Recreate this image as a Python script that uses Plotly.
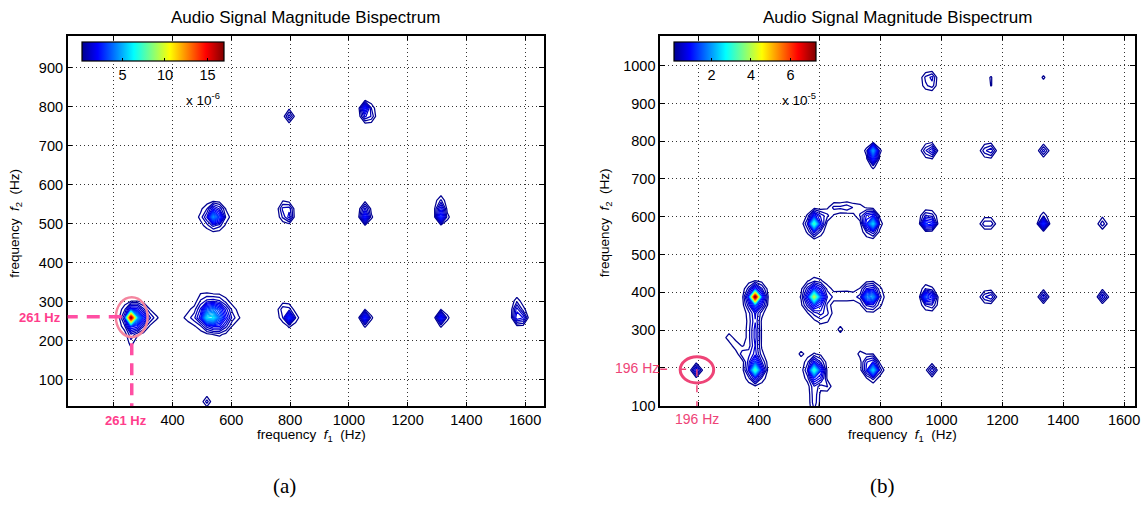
import numpy as np
import plotly.graph_objects as go

W, H = 1147, 506

# ---------------- data ----------------
# frequency grid of the bispectrum estimate (Hz)
bin_hz = 21.533
f_grid = np.arange(0, 1720, bin_hz)

# Panel (a): peaks of |B(f1,f2)| (amplitude in 1e-6), widths in Hz, orientation in deg
a_f1 = [260, 272, 305, 262,
        525, 545, 535, 505, 565, 530,
        800, 780, 1056, 1315, 1582, 1575,
        545, 540, 790, 780, 1056, 1056, 1315, 1310,
        798, 1058, 1068, 515]
a_f2 = [259, 258, 260, 212,
        262, 268, 262, 300, 235, 262,
        258, 275, 258, 258, 259, 285,
        520, 518, 525, 545, 518, 540, 520, 545,
        778, 792, 775, 45]
a_amp = [13.5, 3.8, 1.0, 0.7,
         3.6, 2.8, 1.2, 0.7, 0.6, 0.5,
         2.8, 1.0, 2.6, 2.6, 2.8, 1.4,
         3.6, 1.4, 2.4, 0.9, 2.5, 1.0, 2.8, 1.5,
         1.3, 2.8, 1.0, 0.9]
a_s1 = [8, 22, 30, 8,
        12, 26, 50, 10, 15, 60,
        11, 14, 11, 11, 11, 10,
        13, 30, 11, 12, 11, 10, 11, 10,
        10, 11, 12, 8]
a_s2 = [8, 20, 12, 26,
        12, 24, 20, 22, 12, 10,
        11, 14, 11, 11, 11, 13,
        13, 18, 11, 10, 11, 10, 11, 13,
        10, 11, 10, 8]
a_ang = [0] * len(a_f1)

# Panel (b): peaks (amplitude in 1e-5)
b_f1 = [196, 390, 388, 385, 325, 346,
        585, 585, 585, 615, 541,
        778, 765, 735, 967,
        388, 390, 583, 585, 610, 680, 765, 768, 955, 962, 1155, 1335, 1532, 667,
        583, 583, 770, 770, 615, 650, 690, 730, 755, 958, 955, 1152, 1335, 1530,
        775, 775, 962, 1155, 1337,
        960, 1160, 1335]
b_f2 = [193, 193, 200, 290, 262, 239,
        193, 195, 120, 160, 238,
        193, 205, 238, 193,
        388, 385, 388, 388, 340, 395, 390, 388, 392, 378, 388, 390, 390, 300,
        585, 580, 585, 580, 600, 620, 625, 615, 600, 585, 590, 585, 585, 585,
        772, 760, 775, 775, 775,
        960, 962, 970]
b_amp = [0.8, 2.2, 1.0, 0.7, 0.35, 0.25,
         2.2, 1.0, 0.45, 0.35, 0.25,
         2.0, 0.9, 0.25, 0.6,
         5.5, 1.7, 2.5, 1.6, 0.4, 0.45, 1.8, 1.0, 1.6, 0.7, 0.7, 0.65, 0.7, 0.25,
         2.3, 1.1, 1.8, 1.0, 0.4, 0.4, 0.4, 0.4, 0.4, 1.6, 0.6, 0.6, 1.3, 0.45,
         1.6, 0.9, 0.9, 0.7, 0.55,
         1.0, 0.2, 0.2]
b_s1 = [10, 10, 18, 13, 45, 5,
        10, 18, 10, 25, 5,
        10, 15, 5, 10,
        8, 18, 9, 22, 20, 45, 10, 20, 10, 14, 14, 10, 10, 5,
        10, 15, 10, 15, 16, 16, 16, 16, 16, 10, 14, 14, 10, 10,
        10, 10, 12, 13, 10,
        10, 30, 4]
b_s2 = [10, 10, 22, 55, 7, 5,
        10, 22, 40, 8, 5,
        10, 18, 5, 10,
        8, 20, 9, 22, 15, 8, 10, 20, 10, 14, 10, 10, 10, 5,
        10, 18, 10, 18, 9, 9, 9, 9, 9, 10, 12, 9, 10, 10,
        10, 16, 12, 12, 10,
        12, 10, 4]
b_ang = [0, 0, 0, 0, -40, 0,
         0, 0, 0, -45, 0,
         0, 0, 0, 0,
         0, 0, 0, 0, 0, 0, 0, 0, 0, 0, 0, 0, 0, 0,
         0, 0, 0, 0, 0, 0, 0, 0, 0, 0, 0, 0, 0, 0,
         0, 0, 0, 0, 0,
         0, -60, 0]

# marked fundamentals
note_a = 261
note_b = 196

# tick values
a_xticks = [200, 400, 600, 800, 1000, 1200, 1400, 1600]
a_xtext = ["", "400", "600", "800", "1000", "1200", "1400", "1600"]
a_yticks = [100, 200, 300, 400, 500, 600, 700, 800, 900]
b_xticks = [200, 400, 600, 800, 1000, 1200, 1400, 1600]
b_xtext = ["", "400", "600", "800", "1000", "1200", "1400", "1600"]
b_yticks = [100, 200, 300, 400, 500, 600, 700, 800, 900, 1000]
b_ytext = ["100", "", "300", "400", "500", "600", "700", "800", "900", "1000"]
a_cticks = [5, 10, 15]
b_cticks = [2, 4, 6]


# ---------------- build fields ----------------
def field(f1s, f2s, amps, s1s, s2s, angs):
    X, Y = np.meshgrid(f_grid, f_grid)
    Z = np.zeros_like(X)
    for f1, f2, A, s1, s2, ang in zip(f1s, f2s, amps, s1s, s2s, angs):
        th = np.deg2rad(ang)
        dx, dy = X - f1, Y - f2
        u = dx * np.cos(th) + dy * np.sin(th)
        v = -dx * np.sin(th) + dy * np.cos(th)
        Z += A * np.exp(-0.5 * ((u / s1) ** 2 + (v / s2) ** 2))
    return Z


Za = field(a_f1, a_f2, a_amp, a_s1, a_s2, a_ang)
Zb = field(b_f1, b_f2, b_amp, b_s1, b_s2, b_ang)

jet = [[0.0, "rgb(0,0,143)"], [0.111, "rgb(0,0,255)"], [0.365, "rgb(0,255,255)"],
       [0.619, "rgb(255,255,0)"], [0.873, "rgb(255,0,0)"], [1.0, "rgb(128,0,0)"]]

FONT = "Liberation Sans, Arial, sans-serif"

a_crange = (0.2, 16.9)
b_crange = (0.1, 7.3)

fig = go.Figure()
fig.add_trace(go.Contour(
    x=f_grid, y=f_grid, z=Za, xaxis="x", yaxis="y",
    contours=dict(coloring="lines", start=0.35, end=17, size=0.33),
    line=dict(width=1.25, smoothing=0), colorscale=jet,
    zmin=a_crange[0], zmax=a_crange[1], showscale=False, hoverinfo="skip"))
fig.add_trace(go.Contour(
    x=f_grid, y=f_grid, z=Zb, xaxis="x2", yaxis="y2",
    contours=dict(coloring="lines", start=0.15, end=7.2, size=0.15),
    line=dict(width=1.25, smoothing=0), colorscale=jet,
    zmin=b_crange[0], zmax=b_crange[1], showscale=False, hoverinfo="skip"))


def cbar(x0px, tickvals):
    return dict(orientation="h", x=x0px / W, xanchor="left", xref="paper",
                y=1 - 43 / H, yanchor="top", yref="paper",
                len=142, lenmode="pixels", thickness=19, thicknessmode="pixels",
                xpad=0, ypad=0, outlinewidth=1.2, outlinecolor="black",
                tickvals=tickvals, ticks="inside", ticklen=3, tickcolor="black",
                tickfont=dict(family=FONT, size=14.5, color="black"))


fig.add_trace(go.Scatter(
    x=[800], y=[600], xaxis="x", yaxis="y", mode="markers", hoverinfo="skip",
    showlegend=False,
    marker=dict(size=1, opacity=0, color=[5], colorscale=jet, cmin=a_crange[0],
                cmax=a_crange[1], showscale=True, colorbar=cbar(82, a_cticks))))
fig.add_trace(go.Scatter(
    x=[800], y=[600], xaxis="x2", yaxis="y2", mode="markers", hoverinfo="skip",
    showlegend=False,
    marker=dict(size=1, opacity=0, color=[2], colorscale=jet, cmin=b_crange[0],
                cmax=b_crange[1], showscale=True, colorbar=cbar(677, b_cticks))))

axis_style = dict(showline=True, linecolor="black", linewidth=1.5, mirror="allticks",
                  ticks="inside", ticklen=5, tickcolor="black", tickwidth=1,
                  showgrid=True, gridcolor="#333333", griddash="1px,3px", gridwidth=1,
                  zeroline=False, tickfont=dict(family=FONT, size=14.5, color="black"))

top, bot = 36, 412
fig.update_layout(
    width=W, height=H, margin=dict(l=0, r=0, t=0, b=0),
    paper_bgcolor="white", plot_bgcolor="white", showlegend=False,
    xaxis=dict(domain=[68 / W, 546 / W], range=[43, 1663], tickvals=a_xticks,
               ticktext=a_xtext, anchor="y", **axis_style),
    yaxis=dict(domain=[1 - bot / H, 1 - top / H], range=[31, 983], tickvals=a_yticks,
               anchor="x", **axis_style),
    xaxis2=dict(domain=[663 / W, 1140 / W], range=[75, 1636], tickvals=b_xticks,
                ticktext=b_xtext, anchor="y2", **axis_style),
    yaxis2=dict(domain=[1 - bot / H, 1 - top / H], range=[98, 1080], tickvals=b_yticks,
                ticktext=b_ytext, anchor="x2", **axis_style),
)

PINK_A = "#FF3D8B"
PINK_A_LINE = "#FF4FA3"
PINK_A_CIRC = "#F4869F"
PINK_B = "#EE4477"

shapes = [
    # panel a markers
    dict(type="circle", xref="x", yref="y", x0=note_a - 54, x1=note_a + 54,
         y0=note_a - 52, y1=note_a + 50, line=dict(color=PINK_A_CIRC, width=2.5)),
    dict(type="line", xref="x", yref="y", x0=33, x1=note_a - 28, y0=note_a, y1=note_a,
         line=dict(color=PINK_A_LINE, width=3.5, dash="13px,9px")),
    dict(type="line", xref="x", yref="y", x0=note_a, x1=note_a, y0=note_a - 68, y1=31,
         line=dict(color=PINK_A_LINE, width=3.5, dash="12px,8px")),
    # panel b markers
    dict(type="circle", xref="x2", yref="y2", x0=note_b - 55, x1=note_b + 55,
         y0=note_b - 36, y1=note_b + 33, line=dict(color=PINK_B, width=3)),
    dict(type="line", xref="x2", yref="y2", x0=75, x1=note_b, y0=note_b, y1=note_b,
         line=dict(color=PINK_B, width=1.5, dash="7px,12px")),
    dict(type="line", xref="x2", yref="y2", x0=note_b, x1=note_b, y0=note_b, y1=98,
         line=dict(color=PINK_B, width=1.5, dash="7px,9px")),
]
fig.update_layout(shapes=shapes)


def ann(text, xpx, ypx, size=14, color="black", family=FONT, angle=0):
    return dict(text=text, x=xpx / W, y=1 - ypx / H, xref="paper", yref="paper",
                showarrow=False, xanchor="center", yanchor="middle", textangle=angle,
                font=dict(family=family, size=size, color=color))


annotations = [
    ann("Audio Signal Magnitude Bispectrum", 307, 18, 17),
    ann("Audio Signal Magnitude Bispectrum", 901, 18, 17),
    ann("frequency  <i>f</i><sub>1</sub>  (Hz)", 313, 442, 13.5),
    ann("frequency  <i>f</i><sub>1</sub>  (Hz)", 906, 442, 13.5),
    ann("frequency  <i>f</i><sub>2</sub>  (Hz)", 16, 226, 13.5, angle=-90),
    ann("frequency  <i>f</i><sub>2</sub>  (Hz)", 609, 226, 13.5, angle=-90),
    ann("x 10<sup>-6</sup>", 204, 100, 13.5),
    ann("x 10<sup>-5</sup>", 802, 100, 13.5),
    ann("<b>261 Hz</b>", 40, 322, 13, PINK_A),
    ann("<b>261 Hz</b>", 127, 426, 13, PINK_A),
    ann("196 Hz", 640, 373, 14, PINK_B),
    ann("196 Hz", 700, 425, 14, PINK_B),
    ann("(a)", 286, 493, 21, family="Liberation Serif, Times New Roman, serif"),
    ann("(b)", 886, 493, 21, family="Liberation Serif, Times New Roman, serif"),
]
fig.update_layout(annotations=annotations)

fig.write_html("out.html",
               config={"displayModeBar": False},
               post_script="document.body.style.margin='0px';"
                           "document.body.style.overflow='hidden';")
